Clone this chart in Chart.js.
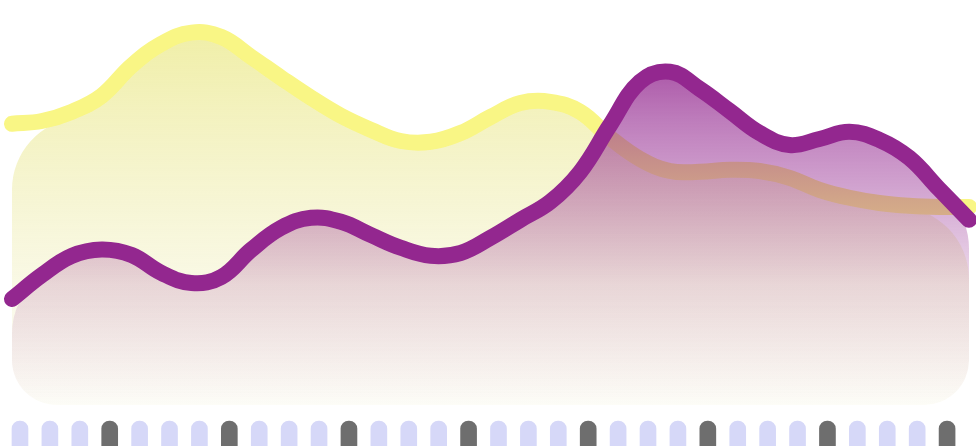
<!DOCTYPE html>
<html>
<head>
<meta charset="utf-8">
<style>
  html, body { margin: 0; padding: 0; background: #ffffff; }
  #c { display: block; }
</style>
<script src="https://cdn.jsdelivr.net/npm/chart.js@4.4.1/dist/chart.umd.min.js"></script>
</head>
<body>
<canvas id="c" width="976" height="446"></canvas>
<script>
// ---- data ----
const ticks = [0,1,2,3,4,5,6,7,8,9,10,11,12,13,14,15,16,17,18,19,20,21,22,23,24,25,26,27,28,29,30,31,32];
const yellowValues = [70.3,71,73.3,77.3,84.8,90.3,93.1,92,87,81.8,76.8,72.3,68.8,66,65.8,68,72,75.5,75.8,73.3,66.8,61.5,58.5,58.3,58.8,58.5,56.8,53.8,51.8,50.5,49.8,49.5,49.5];
const purpleValues = [26.5,32.5,37.3,38.9,37.5,33,30.5,32,38.8,44.3,46.8,45.8,42.5,39.3,37.3,38,41.8,46.3,50.8,58.3,70,80.8,83.3,79,73.5,68,65,66.5,68.3,66.3,61.8,54,46.3];
const pillSlots = [0,1,2,3,4,5,6,7,8,9,10,11,12,13,14,15,16,17,18,19,20,21,22,23,24,25,26,27,28,29,30,31];
const pillSpan = [-4, -12];

// ---- styles ----
const YELLOW = 'rgb(249,246,133)';
const PURPLE = '#93278f';
const PILL_LIGHT = 'rgb(214,216,248)';
const PILL_DARK = 'rgb(110,110,110)';

function toPoints(vals) { return vals.map((v, i) => ({ x: ticks[i], y: v })); }

function vGradient(stops) {
  return (c) => {
    const chart = c.chart;
    const area = chart.chartArea;
    if (!area) return 'rgba(0,0,0,0)';
    const y0 = chart.scales.y.getPixelForValue(0);
    const g = chart.ctx.createLinearGradient(0, area.top, 0, y0);
    stops.forEach(([o, col]) => g.addColorStop(o, col));
    return g;
  };
}

// rounded clip for the area fills
function buildClip(chart, meta) {
  const ctx = chart.ctx;
  const area = chart.chartArea;
  const y0 = chart.scales.y.getPixelForValue(0);
  const p = meta.data;
  const a = p[0], b = p[1], n = p[p.length - 1], m = p[p.length - 2];
  const rt = 72, rb = 45;
  const L = area.left, R = area.right;
  let dx = b.x - a.x, dy = b.y - a.y, len = Math.hypot(dx, dy);
  dx /= len; dy /= len;
  const th = Math.acos(dy);
  const t = rt / Math.tan(th / 2);
  const T2 = { x: a.x + dx * t, y: a.y + dy * t };
  let ex = n.x - m.x, ey = n.y - m.y;
  len = Math.hypot(ex, ey); ex /= len; ey /= len;
  const th2 = Math.acos(-ey);
  const t2 = rt / Math.tan(th2 / 2);
  const U2 = { x: n.x - ex * t2, y: n.y - ey * t2 };
  ctx.beginPath();
  ctx.moveTo(T2.x, T2.y);
  ctx.lineTo(T2.x, -1000);
  ctx.lineTo(U2.x, -1000);
  ctx.lineTo(U2.x, U2.y);
  ctx.arcTo(R, n.y, R, y0, rt);
  ctx.arcTo(R, y0, L, y0, rb);
  ctx.arcTo(L, y0, L, a.y, rb);
  ctx.arcTo(L, a.y, T2.x, T2.y, rt);
  ctx.closePath();
}

const roundFillClip = {
  id: 'roundFillClip',
  beforeDatasetsDraw(chart) {
    chart.$rfClipped = false;
    const metas = chart.getSortedVisibleDatasetMetas();
    const first = metas[metas.length - 1];
    if (first && chart.data.datasets[first.index].roundFill) {
      chart.ctx.save(); buildClip(chart, first); chart.ctx.clip(); chart.$rfClipped = true;
    }
  },
  afterDatasetDraw(chart, args) {
    const ctx = chart.ctx;
    if (chart.$rfClipped) { ctx.restore(); chart.$rfClipped = false; }
    const metas = chart.getSortedVisibleDatasetMetas();
    const pos = metas.findIndex(mm => mm.index === args.index);
    const next = metas[pos - 1];
    if (next && chart.data.datasets[next.index].roundFill) {
      ctx.save(); buildClip(chart, next); ctx.clip(); chart.$rfClipped = true;
    }
  },
  afterDatasetsDraw(chart) {
    if (chart.$rfClipped) { chart.ctx.restore(); chart.$rfClipped = false; }
  }
};

const lineCommon = {
  type: 'line', xAxisID: 'x', yAxisID: 'y', tension: 0.4,
  pointRadius: 0, pointHoverRadius: 0, clip: false
};

new Chart(document.getElementById('c'), {
  data: {
    datasets: [
      Object.assign({}, lineCommon, {
        label: 'purple', data: toPoints(purpleValues), borderColor: PURPLE, borderWidth: 16,
        borderCapStyle: 'round', borderJoinStyle: 'round', fill: false
      }),
      Object.assign({}, lineCommon, {
        label: 'purple area', data: toPoints(purpleValues), borderWidth: 0, fill: 'origin', roundFill: true,
        backgroundColor: vGradient([[0, 'rgba(147,39,143,1)'], [0.3, 'rgba(147,39,143,0.6)'], [0.7, 'rgba(147,39,143,0.17)'], [1, 'rgba(147,39,143,0)']])
      }),
      Object.assign({}, lineCommon, {
        label: 'yellow', data: toPoints(yellowValues), borderColor: YELLOW, borderWidth: 16,
        borderCapStyle: 'round', borderJoinStyle: 'round', fill: false
      }),
      Object.assign({}, lineCommon, {
        label: 'yellow area', data: toPoints(yellowValues), borderWidth: 0, fill: 'origin', roundFill: true,
        backgroundColor: vGradient([[0, 'rgba(236,234,140,0.85)'], [1, 'rgba(240,238,200,0.15)']])
      }),
      {
        type: 'bar', label: 'slots', xAxisID: 'x2', yAxisID: 'y', clip: false, grouped: false,
        data: pillSlots.map(i => ({ x: i, y: pillSpan })),
        barThickness: 16, borderRadius: 8, borderSkipped: false, borderWidth: 0,
        backgroundColor: (c) => (pillSlots[c.dataIndex] % 4 === 3 ? PILL_DARK : PILL_LIGHT)
      }
    ]
  },
  options: {
    responsive: false,
    animation: false,
    events: [],
    layout: { padding: { left: 12, right: 7, top: 0, bottom: 0 } },
    plugins: { legend: { display: false }, tooltip: { enabled: false } },
    scales: {
      x: { type: 'linear', min: 0, max: 32, display: false, offset: false },
      x2: { type: 'linear', min: -0.267, max: 31.733, display: false, offset: false, grid: { offset: false } },
      y: { type: 'linear', min: -10.25, max: 101.25, display: false }
    }
  },
  plugins: [roundFillClip]
});
</script>
</body>
</html>
